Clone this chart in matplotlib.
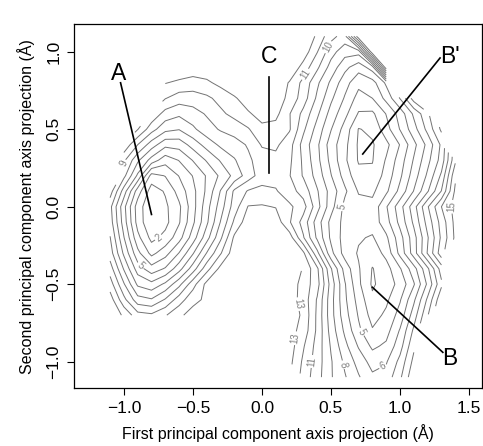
import numpy as np
import matplotlib
matplotlib.use('Agg')
import matplotlib.pyplot as plt

plt.rcParams['font.family'] = ['Liberation Sans', 'DejaVu Sans']

n = np.nan

# grid of the projection plane (first / second principal component, Angstrom)
pc1 = [-1.1, -1.0, -0.9, -0.8, -0.7, -0.6, -0.5, -0.4, -0.3, -0.2, -0.1, 0.0, 0.1,
       0.2, 0.3, 0.4, 0.5, 0.6, 0.7, 0.8, 0.9, 1.0, 1.1, 1.2, 1.3, 1.4]
pc2 = [1.1, 1.0, 0.9, 0.8, 0.7, 0.6, 0.5, 0.4, 0.3, 0.2, 0.1, 0.0,
       -0.1, -0.2, -0.3, -0.4, -0.5, -0.6, -0.7, -0.8, -0.9, -1.0, -1.1]

energy = [
    [n, n, n, n, n, n, n, n, n, n, n, n, n, n, 12.95, 11.8, 10.3, 9.6, 14.8, n, n, n, n, n, n, n],
    [n, n, n, n, n, n, n, n, n, n, n, n, n, 12.95, 12.6, 11.05, 9.4, 8.4, 8.4, 14.8, n, n, n, n, n, n],
    [n, n, n, n, 12.9, 12.8, 12.6, 12.7, 12.95, n, n, n, 12.95, 12.9, 11.6, 10.2, 8.6, 7.3, 6.4, 7.5, 14.8, n, n, n, n, n],
    [n, n, n, n, 12.05, 11.8, 11.6, 11.8, 12.3, 12.6, 12.9, n, 12.8, 11.9, 10.7, 9.2, 7.8, 6.4, 5.3, 5.6, 7.2, n, n, n, n, n],
    [n, n, n, n, 11.05, 10.5, 10.5, 10.8, 11.3, 11.9, 12.4, 12.9, 12.6, 11.7, 10.5, 8.8, 7.2, 5.9, 4.6, 5.0, 6.3, 8.05, 10.5, n, n, n],
    [n, n, n, 10.8, 9.6, 9.2, 9.6, 10.1, 10.8, 11.3, 11.9, 12.3, 12.3, 11.05, 9.7, 8.2, 6.6, 5.3, 3.9, 3.8, 5.05, 6.4, 8.2, 9.8, n, n],
    [n, n, 11.05, 9.4, 8.3, 8.05, 8.8, 9.6, 10.1, 10.4, 10.9, 11.8, 11.6, 11.1, 9.2, 7.6, 6.05, 4.6, 2.95, 3.2, 4.6, 6.05, 7.6, 9.3, 11.2, n],
    [n, 10.8, 9.0, 7.5, 6.3, 6.4, 7.4, 8.4, 9.2, 9.6, 10.1, 11.1, 11.2, 10.4, 8.6, 7.2, 5.5, 4.3, 2.85, 2.9, 3.7, 5.05, 6.7, 8.3, 10.2, n],
    [n, 9.2, 7.2, 5.6, 4.4, 5.05, 6.05, 7.1, 8.1, 8.9, 9.8, 10.5, 10.7, 10.2, 8.8, 7.3, 5.7, 4.2, 2.9, 2.95, 4.1, 5.5, 7.1, 8.7, 10.4, 13.8],
    [n, 8.3, 5.8, 2.6, 3.05, 4.05, 5.05, 6.1, 7.2, 8.3, 9.5, 10.5, 10.6, 10.05, 8.9, 7.6, 6.05, 4.6, 3.3, 3.2, 4.4, 5.8, 7.5, 9.2, 11.2, 14.8],
    [9.5, 6.5, 3.5, 1.5, 2.1, 3.4, 4.7, 6.2, 8.05, 10.2, 11.1, 11.3, 11.1, 10.4, 9.6, 8.1, 6.6, 5.2, 3.9, 3.8, 4.8, 6.3, 8.05, 9.9, 12.05, 15.2],
    [8.3, 5.3, 2.5, 1.15, 1.8, 2.8, 4.6, 6.6, 8.5, 10.5, 12.05, 12.1, 11.95, 11.2, 10.4, 8.4, 6.4, 4.7, 4.4, 4.3, 5.9, 7.6, 9.6, 11.9, 14.0, 15.4],
    [8.5, 5.5, 2.6, 1.1, 1.7, 2.9, 4.8, 6.8, 9.05, 11.2, 12.6, 12.9, 12.6, 11.1, 9.6, 7.5, 5.7, 4.7, 4.5, 4.4, 5.6, 7.3, 9.2, 11.4, 13.4, 15.3],
    [9.05, 6.05, 3.3, 1.7, 2.3, 3.6, 5.5, 7.6, 9.8, 12.2, 12.9, n, n, 12.5, 10.1, 7.8, 5.8, 4.6, 4.1, 3.9, 4.8, 6.6, 8.6, 10.9, 13.2, 15.2],
    [9.5, 6.8, 4.3, 2.7, 3.6, 5.05, 6.9, 9.05, 10.9, 12.6, n, n, n, 12.9, 12.2, 9.3, 6.3, 4.6, 3.9, 3.4, 4.3, 6.3, 8.5, 11.1, 13.6, n],
    [10.5, 7.9, 5.5, 4.4, 5.1, 6.6, 8.5, 10.6, 12.3, n, n, n, n, n, 12.9, 11.2, 8.1, 5.6, 4.1, 2.95, 3.6, 4.9, 6.6, 8.8, 11.5, n],
    [11.5, 9.1, 6.8, 6.3, 7.2, 8.7, 10.6, 12.3, 12.9, n, n, n, n, 13.6, 12.6, 11.4, 8.6, 6.1, 4.2, 2.85, 3.5, 4.3, 5.9, 8.2, 10.8, n],
    [12.5, 10.3, 8.4, 8.1, 9.1, 10.5, 11.7, 12.2, 12.8, n, n, n, n, 13.5, 12.6, 10.9, 8.4, 6.2, 4.6, 3.2, 3.8, 4.9, 6.8, 9.2, 11.8, n],
    [12.9, 11.8, 10.4, 10.2, 10.9, 11.8, 12.4, 12.7, 12.9, n, n, n, n, 13.6, 12.8, 10.8, 8.4, 6.4, 4.9, 3.6, 4.2, 5.4, 7.5, 9.9, n, n],
    [n, n, n, n, n, n, n, n, n, n, n, n, n, 13.4, 12.6, 10.8, 8.6, 6.8, 5.2, 4.1, 4.6, 6.1, 8.2, n, n, n],
    [n, n, n, n, n, n, n, n, n, n, n, n, n, 13.5, 12.1, 10.6, 8.9, 7.3, 5.9, 4.8, 5.2, 6.6, 8.8, n, n, n],
    [n, n, n, n, n, n, n, n, n, n, n, n, n, 13.3, 11.8, 10.5, 9.1, 7.8, 6.6, 5.6, 5.9, 7.3, 9.3, n, n, n],
    [n, n, n, n, n, n, n, n, n, n, n, n, n, n, 11.6, 10.4, 9.1, 8.1, 7.1, 6.2, 6.4, 7.8, 9.8, n, n, n],
]

levels = list(range(1, 16))

# where the contour labels sit
label_spots = [(-0.75, -0.2), (-0.86, -0.36), (-1.01, 0.28), (0.58, 0.0),
               (0.15, -0.65), (0.25, -0.85), (0.37, -1.0), (0.59, -1.02),
               (0.88, -1.04), (0.72, -0.81), (1.36, 0.0), (0.29, 0.87), (0.48, 1.03)]

# state letters: text position, line start, line end
states = {
    'A':  ((-1.04, 0.86), (-1.024, 0.80), (-0.80, -0.05)),
    'C':  ((0.05, 0.97), (0.053, 0.84), (0.053, 0.22)),
    "B'": ((1.36, 0.97), (1.29, 0.96), (0.73, 0.34)),
    'B':  ((1.36, -0.98), (1.31, -0.94), (0.80, -0.52)),
}

fig = plt.figure(figsize=(4.83, 4.46), dpi=100)
ax = fig.add_axes([0.153, 0.1294, 0.845, 0.816])

X, Y = np.meshgrid(pc1, pc2)
Z = np.ma.masked_invalid(np.array(energy))
cs = ax.contour(X, Y, Z, levels=levels, colors='0.45', linewidths=0.7)
ax.clabel(cs, fmt='%d', fontsize=7, colors='0.5', manual=label_spots,
          inline=True, inline_spacing=2)

for name, (txt, p0, p1) in states.items():
    ax.plot([p0[0], p1[0]], [p0[1], p1[1]], color='black', lw=1.2)
    ax.text(txt[0], txt[1], name, fontsize=16.5, ha='center', va='center')

ax.set_xlim(-1.362, 1.594)
ax.set_ylim(-1.172, 1.177)
ax.set_xticks([-1.0, -0.5, 0.0, 0.5, 1.0, 1.5])
ax.set_yticks([-1.0, -0.5, 0.0, 0.5, 1.0])
ax.tick_params(direction='out', length=5, width=0.8, labelsize=12.5, pad=4)
plt.setp(ax.get_yticklabels(), rotation=90, va='center')
for s in ax.spines.values():
    s.set_linewidth(0.9)

ax.set_xlabel('First principal component axis projection (Å)', fontsize=11.5, labelpad=6)
ax.set_ylabel('Second principal component axis projection (Å)', fontsize=11.5, labelpad=8)

fig.savefig('out.png', dpi=100)
